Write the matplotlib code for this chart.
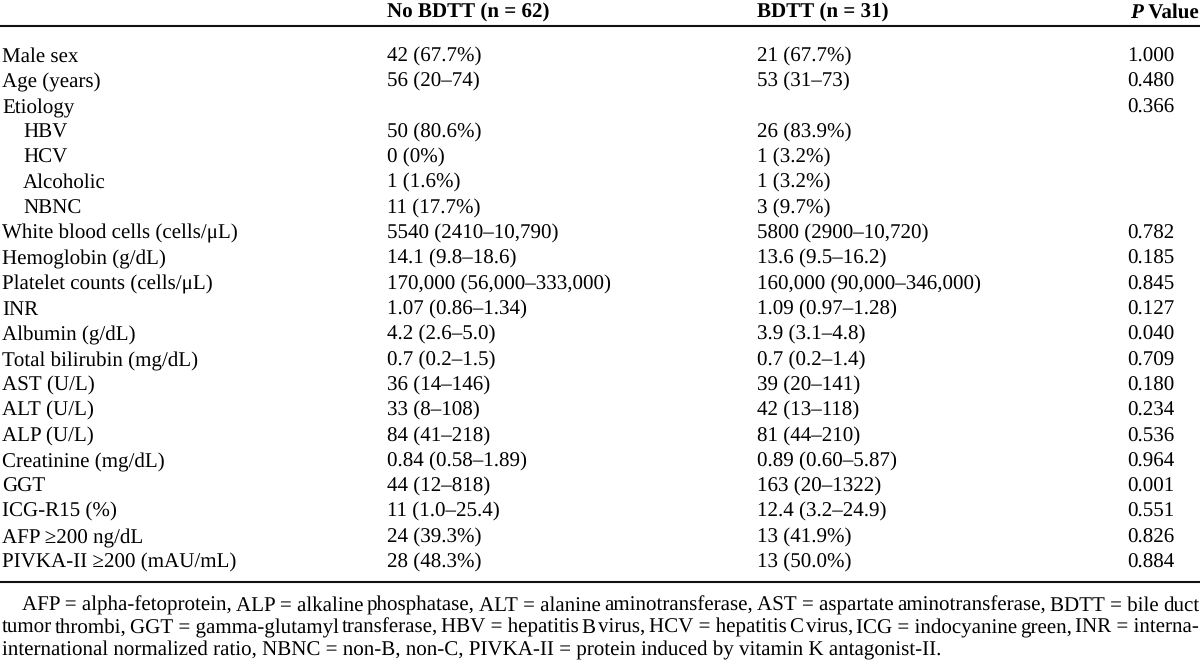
import matplotlib
matplotlib.use("Agg")
import matplotlib.pyplot as plt

plt.rcParams['font.family'] = 'Liberation Serif'
plt.rcParams['text.hinting'] = 'no_hinting'
plt.rcParams['text.hinting_factor'] = 1

# table content
col_headers = ["No BDTT (n = 62)", "BDTT (n = 31)"]
row_labels = [
    "Male sex", "Age (years)", "Etiology", "HBV", "HCV", "Alcoholic", "NBNC",
    "White blood cells (cells/\u03bcL)", "Hemoglobin (g/dL)",
    "Platelet counts (cells/\u03bcL)", "INR", "Albumin (g/dL)",
    "Total bilirubin (mg/dL)", "AST (U/L)", "ALT (U/L)", "ALP (U/L)",
    "Creatinine (mg/dL)", "GGT", "ICG-R15 (%)", "AFP \u2265200 ng/dL",
    "PIVKA-II \u2265200 (mAU/mL)",
]
indented = [False, False, False, True, True, True, True] + [False] * 14
no_bdtt = [
    "42 (67.7%)", "56 (20\u201374)", "", "50 (80.6%)", "0 (0%)", "1 (1.6%)",
    "11 (17.7%)", "5540 (2410\u201310,790)", "14.1 (9.8\u201318.6)",
    "170,000 (56,000\u2013333,000)", "1.07 (0.86\u20131.34)", "4.2 (2.6\u20135.0)",
    "0.7 (0.2\u20131.5)", "36 (14\u2013146)", "33 (8\u2013108)", "84 (41\u2013218)",
    "0.84 (0.58\u20131.89)", "44 (12\u2013818)", "11 (1.0\u201325.4)",
    "24 (39.3%)", "28 (48.3%)",
]
bdtt = [
    "21 (67.7%)", "53 (31\u201373)", "", "26 (83.9%)", "1 (3.2%)", "1 (3.2%)",
    "3 (9.7%)", "5800 (2900\u201310,720)", "13.6 (9.5\u201316.2)",
    "160,000 (90,000\u2013346,000)", "1.09 (0.97\u20131.28)", "3.9 (3.1\u20134.8)",
    "0.7 (0.2\u20131.4)", "39 (20\u2013141)", "42 (13\u2013118)", "81 (44\u2013210)",
    "0.89 (0.60\u20135.87)", "163 (20\u20131322)", "12.4 (3.2\u201324.9)",
    "13 (41.9%)", "13 (50.0%)",
]
p_values = [
    "1.000", "0.480", "0.366", "", "", "", "", "0.782", "0.185", "0.845",
    "0.127", "0.040", "0.709", "0.180", "0.234", "0.536", "0.964", "0.001",
    "0.551", "0.826", "0.884",
]
# "~" keeps "X = y" together when the line is justified
footnote_lines = [
    "AFP~=~alpha-fetoprotein, ALP~=~alkaline phosphatase, "
    "ALT~=~alanine aminotransferase, AST~=~aspartate aminotransferase, "
    "BDTT~=~bile duct",
    "tumor thrombi, GGT~=~gamma-glutamyl transferase, HBV~=~hepatitis B virus, "
    "HCV~=~hepatitis C virus, ICG~=~indocyanine green, INR~=~interna-",
    "international normalized ratio, NBNC~=~non-B, non-C, "
    "PIVKA-II~=~protein induced by vitamin K antagonist-II.",
]

W, H = 1200, 661
fig = plt.figure(figsize=(W / 100, H / 100), dpi=100)
ax = fig.add_axes([0, 0, 1, 1])
ax.set_xlim(0, W)
ax.set_ylim(H, 0)
ax.axis("off")
renderer = fig.canvas.get_renderer()

fs = 15.4
x_label, x_c1, x_c2, x_p = 2, 387, 757, 1127
row0, row_h = 62, 25.3

# header
ax.text(x_c1, 18, col_headers[0], fontsize=fs, fontweight="bold", va="baseline")
ax.text(x_c2, 18, col_headers[1], fontsize=fs, fontweight="bold", va="baseline")
tv = ax.text(1199, 18, " Value", fontsize=fs, fontweight="bold", va="baseline", ha="right")
vb = tv.get_window_extent(renderer)
ax.text(vb.x0, 18, "P", fontsize=fs, fontweight="bold", style="italic",
        va="baseline", ha="right")

ax.axhline(26, color="#111111", lw=1.5)
ax.axhline(582, color="#111111", lw=1.5)

for i, lab in enumerate(row_labels):
    y = round(row0 + i * row_h)
    ax.text(x_label + (21 if indented[i] else 0), y, lab, fontsize=fs, va="baseline")
    ax.text(x_c1, y, no_bdtt[i], fontsize=fs, va="baseline")
    ax.text(x_c2, y, bdtt[i], fontsize=fs, va="baseline")
    ax.text(x_p, y, p_values[i], fontsize=fs, va="baseline")

# footnote size: last line runs to about x=930
probe = ax.text(0, 0, footnote_lines[2].replace("~", " "), fontsize=10)
fs_note = 10 * 928 / probe.get_window_extent(renderer).width
probe.remove()


def justified(line, x0, x1, y):
    words = [w.replace("~", " ") for w in line.split(" ")]
    objs = [ax.text(0, y, w, fontsize=fs_note, va="baseline") for w in words]
    widths = [o.get_window_extent(renderer).width for o in objs]
    gap = (x1 - x0 - sum(widths)) / (len(words) - 1)
    x = x0
    for o, w in zip(objs, widths):
        o.set_x(x)
        x += w + gap


note_y = [611, 633, 655]
justified(footnote_lines[0], 22, 1199, note_y[0])
justified(footnote_lines[1], 2, 1199, note_y[1])
ax.text(2, note_y[2], footnote_lines[2].replace("~", " "), fontsize=fs_note, va="baseline")

fig.savefig("out.png", dpi=100)
